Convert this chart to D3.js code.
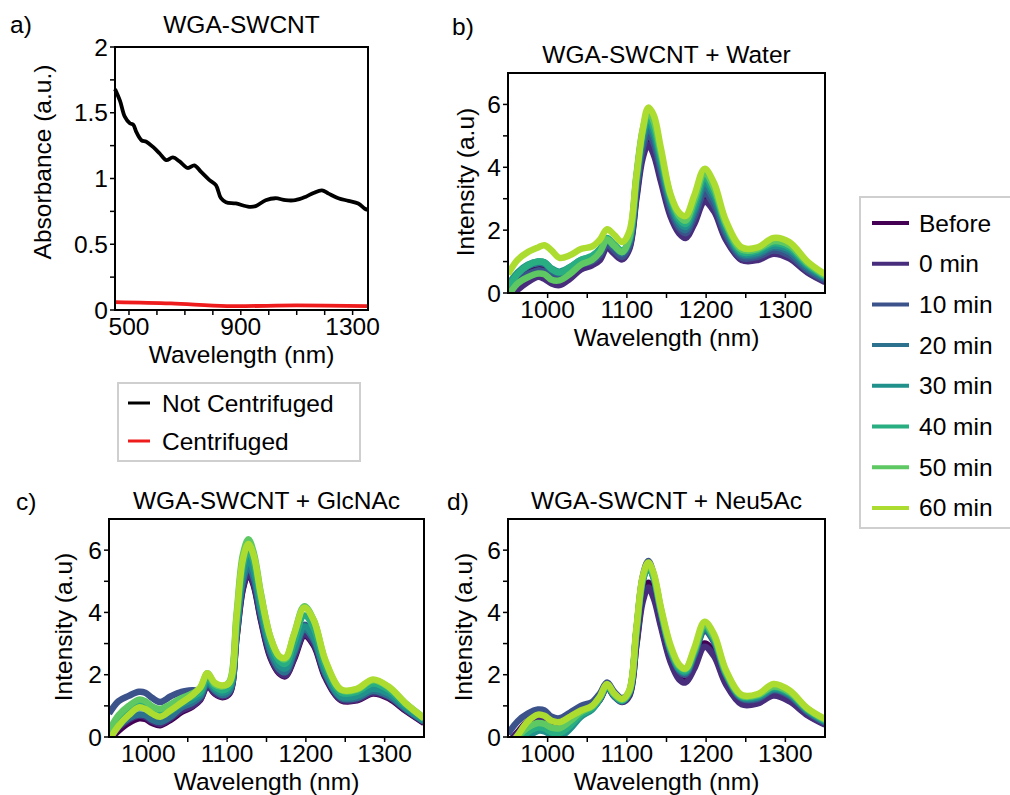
<!DOCTYPE html>
<html>
<head>
<meta charset="utf-8">
<script src="https://cdn.jsdelivr.net/npm/d3@7"></script>
<style>
body { margin: 0; background: #fff; }
text { font-family: "Liberation Sans", Arial, sans-serif; fill: #000; }
</style>
</head>
<body>
<div class="chart"></div>
<script>
var width = 1010, height = 795;

// panel a: absorbance
var absWl = [450, 468, 485, 503, 515, 527, 545, 562, 586, 610, 633, 657, 681, 710, 734, 758, 787, 811, 829, 847, 882, 930, 953, 989, 1024, 1060, 1095, 1131, 1160, 1190, 1214, 1249, 1285, 1320, 1344, 1355];
var notCentrifuged = [1.68, 1.59, 1.47, 1.42, 1.41, 1.35, 1.29, 1.28, 1.24, 1.19, 1.14, 1.16, 1.13, 1.08, 1.10, 1.05, 0.99, 0.95, 0.85, 0.82, 0.81, 0.785, 0.79, 0.835, 0.85, 0.835, 0.835, 0.86, 0.89, 0.91, 0.885, 0.85, 0.83, 0.81, 0.77, 0.76];
var centWl = [450, 650, 850, 1100, 1355];
var centrifuged = [0.06, 0.05, 0.03, 0.035, 0.03];

// panels b-d: NIR fluorescence
var timeLabels = ['Before', '0 min', '10 min', '20 min', '30 min', '40 min', '50 min', '60 min'];
var nirWl = [950, 962, 975, 988, 996, 1005, 1015, 1028, 1042, 1056, 1066, 1075, 1084, 1094, 1103, 1112, 1120, 1127, 1134, 1143, 1155, 1166, 1174, 1185, 1198, 1210, 1225, 1245, 1265, 1285, 1305, 1328, 1350];

var water = [
	[0.1, 0.45, 0.65, 0.8, 0.8, 0.62, 0.5, 0.6, 0.85, 0.95, 1.15, 1.5, 1.3, 1.1, 1.45, 3.1, 4.45, 4.9, 4.6, 3.7, 2.55, 1.98, 1.82, 2.3, 3.0, 2.7, 1.75, 1.08, 1.1, 1.3, 1.15, 0.68, 0.38],
	[-0.15, 0.1, 0.35, 0.52, 0.45, 0.3, 0.25, 0.45, 0.75, 0.88, 1.05, 1.45, 1.25, 1.07, 1.4, 3.0, 4.3, 4.72, 4.4, 3.55, 2.45, 1.9, 1.75, 2.2, 2.9, 2.6, 1.7, 1.05, 1.05, 1.25, 1.1, 0.65, 0.35],
	[0.05, 0.4, 0.6, 0.72, 0.68, 0.5, 0.45, 0.62, 0.9, 1.0, 1.2, 1.55, 1.35, 1.15, 1.5, 3.25, 4.6, 5.05, 4.75, 3.85, 2.65, 2.05, 1.9, 2.4, 3.15, 2.8, 1.85, 1.12, 1.15, 1.35, 1.2, 0.72, 0.4],
	[0.2, 0.6, 0.85, 0.95, 0.92, 0.72, 0.62, 0.78, 1.0, 1.1, 1.3, 1.65, 1.45, 1.25, 1.6, 3.4, 4.8, 5.25, 4.95, 4.0, 2.8, 2.15, 2.0, 2.55, 3.35, 2.95, 1.95, 1.2, 1.22, 1.45, 1.3, 0.78, 0.45],
	[0.25, 0.65, 0.9, 1.0, 0.98, 0.78, 0.68, 0.82, 1.05, 1.15, 1.35, 1.7, 1.5, 1.3, 1.65, 3.55, 4.95, 5.45, 5.1, 4.15, 2.9, 2.25, 2.1, 2.65, 3.5, 3.1, 2.05, 1.25, 1.28, 1.5, 1.38, 0.85, 0.5],
	[0.15, 0.6, 0.88, 1.0, 0.97, 0.76, 0.65, 0.82, 1.05, 1.18, 1.4, 1.75, 1.55, 1.35, 1.7, 3.65, 5.1, 5.6, 5.25, 4.3, 3.0, 2.35, 2.2, 2.8, 3.65, 3.22, 2.15, 1.3, 1.35, 1.58, 1.45, 0.9, 0.52],
	[-0.1, 0.3, 0.5, 0.62, 0.6, 0.42, 0.4, 0.6, 0.9, 1.05, 1.3, 1.7, 1.5, 1.3, 1.75, 3.75, 5.2, 5.75, 5.45, 4.45, 3.1, 2.45, 2.3, 2.95, 3.8, 3.35, 2.2, 1.38, 1.4, 1.65, 1.52, 0.95, 0.56],
	[0.6, 1.05, 1.3, 1.45, 1.52, 1.35, 1.12, 1.2, 1.4, 1.48, 1.7, 2.03, 1.85, 1.62, 1.95, 3.7, 5.2, 5.9, 5.65, 4.6, 3.15, 2.55, 2.45, 3.1, 3.95, 3.5, 2.3, 1.45, 1.45, 1.75, 1.62, 1.0, 0.6]
];

var glcnac = [
	[-0.1, 0.2, 0.45, 0.6, 0.58, 0.45, 0.38, 0.55, 0.8, 0.98, 1.2, 1.65, 1.4, 1.28, 1.4, 3.2, 4.75, 5.25, 4.85, 3.75, 2.55, 2.05, 1.95, 2.5, 3.25, 2.95, 1.9, 1.18, 1.18, 1.4, 1.25, 0.82, 0.45],
	[-0.05, 0.3, 0.55, 0.68, 0.65, 0.5, 0.42, 0.6, 0.85, 1.0, 1.22, 1.68, 1.42, 1.3, 1.42, 3.25, 4.8, 5.3, 4.9, 3.8, 2.6, 2.08, 1.98, 2.55, 3.3, 3.0, 1.95, 1.2, 1.2, 1.42, 1.28, 0.85, 0.48],
	[0.75, 1.15, 1.32, 1.45, 1.42, 1.25, 1.12, 1.3, 1.45, 1.5, 1.5, 1.85, 1.55, 1.4, 1.5, 3.4, 5.1, 5.6, 5.2, 4.05, 2.8, 2.25, 2.15, 2.8, 3.6, 3.25, 2.1, 1.3, 1.3, 1.55, 1.38, 0.9, 0.5],
	[0.0, 0.35, 0.6, 0.72, 0.7, 0.55, 0.48, 0.65, 0.95, 1.1, 1.3, 1.75, 1.5, 1.35, 1.48, 3.35, 5.0, 5.5, 5.1, 3.95, 2.72, 2.18, 2.08, 2.7, 3.45, 3.12, 2.02, 1.25, 1.25, 1.48, 1.32, 0.88, 0.5],
	[0.05, 0.5, 0.8, 0.95, 0.92, 0.75, 0.68, 0.82, 1.05, 1.2, 1.38, 1.82, 1.55, 1.42, 1.55, 3.45, 5.2, 5.7, 5.3, 4.1, 2.85, 2.3, 2.2, 2.8, 3.55, 3.22, 2.1, 1.3, 1.32, 1.55, 1.4, 0.92, 0.52],
	[0.1, 0.55, 0.85, 1.05, 1.0, 0.85, 0.8, 0.95, 1.15, 1.3, 1.45, 1.92, 1.62, 1.5, 1.65, 3.7, 5.5, 6.0, 5.6, 4.35, 3.05, 2.45, 2.35, 3.05, 3.9, 3.5, 2.28, 1.42, 1.45, 1.72, 1.52, 1.0, 0.58],
	[0.2, 0.7, 1.0, 1.2, 1.15, 0.98, 0.9, 1.05, 1.25, 1.4, 1.58, 2.05, 1.7, 1.62, 1.78, 3.95, 5.85, 6.35, 5.9, 4.6, 3.2, 2.58, 2.5, 3.3, 4.2, 3.75, 2.42, 1.5, 1.52, 1.82, 1.6, 1.05, 0.62],
	[-0.1, 0.35, 0.7, 0.95, 0.9, 0.75, 0.65, 0.85, 1.1, 1.35, 1.6, 2.05, 1.75, 1.65, 1.75, 3.85, 5.7, 6.2, 5.8, 4.55, 3.2, 2.6, 2.55, 3.3, 4.15, 3.75, 2.45, 1.52, 1.55, 1.85, 1.62, 1.05, 0.6]
];

var neu5ac = [
	[-0.2, 0.15, 0.5, 0.65, 0.62, 0.45, 0.4, 0.58, 0.8, 0.95, 1.22, 1.62, 1.32, 1.15, 1.35, 3.0, 4.5, 4.95, 4.6, 3.65, 2.5, 1.9, 1.8, 2.3, 3.0, 2.7, 1.75, 1.1, 1.12, 1.38, 1.2, 0.72, 0.42],
	[-0.25, 0.1, 0.45, 0.6, 0.58, 0.42, 0.38, 0.55, 0.78, 0.92, 1.2, 1.6, 1.3, 1.12, 1.32, 2.95, 4.35, 4.8, 4.45, 3.55, 2.42, 1.85, 1.75, 2.2, 2.9, 2.6, 1.7, 1.05, 1.08, 1.33, 1.15, 0.7, 0.4],
	[0.1, 0.5, 0.75, 0.88, 0.85, 0.65, 0.6, 0.78, 1.0, 1.12, 1.4, 1.75, 1.45, 1.25, 1.45, 3.4, 5.15, 5.65, 5.2, 4.05, 2.75, 2.12, 2.0, 2.6, 3.4, 3.05, 1.98, 1.22, 1.22, 1.5, 1.32, 0.8, 0.45],
	[-0.4, -0.2, 0.1, 0.3, 0.28, 0.12, 0.1, 0.35, 0.7, 0.9, 1.25, 1.65, 1.35, 1.18, 1.42, 3.35, 5.0, 5.5, 5.1, 4.0, 2.75, 2.15, 2.05, 2.65, 3.45, 3.1, 2.0, 1.25, 1.25, 1.52, 1.35, 0.82, 0.47],
	[-0.5, -0.3, 0.0, 0.2, 0.18, 0.05, 0.0, 0.25, 0.65, 0.88, 1.22, 1.62, 1.32, 1.15, 1.42, 3.35, 5.0, 5.45, 5.08, 4.0, 2.78, 2.18, 2.08, 2.68, 3.5, 3.12, 2.02, 1.27, 1.28, 1.55, 1.38, 0.85, 0.5],
	[-0.4, -0.15, 0.15, 0.3, 0.28, 0.15, 0.12, 0.35, 0.72, 0.92, 1.25, 1.65, 1.35, 1.18, 1.45, 3.4, 5.05, 5.5, 5.12, 4.05, 2.82, 2.22, 2.12, 2.72, 3.55, 3.18, 2.05, 1.3, 1.32, 1.6, 1.42, 0.88, 0.52],
	[-0.3, 0.0, 0.3, 0.45, 0.42, 0.3, 0.28, 0.5, 0.8, 0.98, 1.3, 1.68, 1.38, 1.2, 1.48, 3.45, 5.1, 5.55, 5.18, 4.1, 2.88, 2.28, 2.18, 2.78, 3.6, 3.22, 2.1, 1.32, 1.35, 1.62, 1.45, 0.9, 0.55],
	[-0.3, 0.05, 0.5, 0.72, 0.68, 0.52, 0.48, 0.65, 0.85, 1.0, 1.3, 1.7, 1.4, 1.22, 1.5, 3.5, 5.15, 5.6, 5.25, 4.15, 2.95, 2.32, 2.2, 2.85, 3.7, 3.3, 2.15, 1.35, 1.38, 1.7, 1.5, 0.92, 0.58]
];

var absXTicks = [500, 600, 700, 800, 900, 1000, 1100, 1200, 1300];
var absXLabels = [500, 900, 1300];
var absYTicks = [0, 0.25, 0.5, 0.75, 1, 1.25, 1.5, 1.75, 2];
var absYLabels = [0, 0.5, 1, 1.5, 2];
var nirXTicks = [1000, 1050, 1100, 1150, 1200, 1250, 1300];
var nirXLabels = [1000, 1100, 1200, 1300];
var nirYTicks = [0, 1, 2, 3, 4, 5, 6];
var nirYLabels = [0, 2, 4, 6];

var svg = d3.select('.chart')
	.append('svg')
	.attr('width', width)
	.attr('height', height);

var color = function(i) { return d3.interpolateViridis(i / 8); };
var fs = 24.5;

// draws ticks, labels and axis titles for one panel
function drawAxes(box, x, y, xt, xl, yt, yl, ylabel, yfmt) {
	var g = svg.append('g');
	g.selectAll('.xt').data(xt).enter().append('line')
		.attr('x1', function(d) { return x(d); }).attr('x2', function(d) { return x(d); })
		.attr('y1', box.b).attr('y2', box.b + 5)
		.attr('stroke', '#000').attr('stroke-width', 1.5);
	g.selectAll('.yt').data(yt).enter().append('line')
		.attr('y1', function(d) { return y(d); }).attr('y2', function(d) { return y(d); })
		.attr('x1', box.l - 5).attr('x2', box.l)
		.attr('stroke', '#000').attr('stroke-width', 1.5);
	g.selectAll('.xl').data(xl).enter().append('text')
		.attr('x', function(d) { return x(d); })
		.attr('y', box.b + 25)
		.attr('text-anchor', 'middle')
		.style('font-size', fs + 'px')
		.text(function(d) { return d; });
	g.selectAll('.yl').data(yl).enter().append('text')
		.attr('x', box.l - 7)
		.attr('y', function(d) { return y(d); })
		.attr('dy', '0.35em')
		.attr('text-anchor', 'end')
		.style('font-size', fs + 'px')
		.text(yfmt);
	g.append('text')
		.attr('x', (box.l + box.r) / 2)
		.attr('y', box.b + 53)
		.attr('text-anchor', 'middle')
		.style('font-size', fs + 'px')
		.text('Wavelength (nm)');
	g.append('text')
		.attr('transform', 'translate(' + ylabel.x + ',' + ylabel.y + ') rotate(-90)')
		.attr('text-anchor', 'middle')
		.style('font-size', fs + 'px')
		.text(ylabel.text);
}

function drawFrame(box) {
	svg.append('rect')
		.attr('x', box.l).attr('y', box.t)
		.attr('width', box.r - box.l).attr('height', box.b - box.t)
		.attr('fill', 'none').attr('stroke', '#000').attr('stroke-width', 2);
}

function addText(x, y, s, anchor) {
	svg.append('text')
		.attr('x', x).attr('y', y)
		.attr('text-anchor', anchor || 'start')
		.style('font-size', fs + 'px')
		.text(s);
}

// ---- panel a ----
var boxA = { l: 115, r: 368, t: 47, b: 310 };
var xA = d3.scaleLinear().domain([450, 1355]).range([boxA.l, boxA.r]);
var yA = d3.scaleLinear().domain([0, 2]).range([boxA.b, boxA.t]);

drawAxes(boxA, xA, yA, absXTicks, absXLabels, absYTicks, absYLabels,
	{ x: 51, y: 162, text: 'Absorbance (a.u.)' }, function(d) { return d; });

var lineA = d3.line()
	.x(function(d) { return xA(d[0]); })
	.y(function(d) { return yA(d[1]); })
	.curve(d3.curveCatmullRom);

svg.append('path')
	.datum(d3.zip(absWl, notCentrifuged))
	.attr('d', lineA)
	.attr('fill', 'none').attr('stroke', '#000').attr('stroke-width', 3.8);
svg.append('path')
	.datum(d3.zip(centWl, centrifuged))
	.attr('d', lineA)
	.attr('fill', 'none').attr('stroke', '#ee1c1c').attr('stroke-width', 3.8);
drawFrame(boxA);

addText(10, 33, 'a)');
addText((boxA.l + boxA.r) / 2, 33, 'WGA-SWCNT', 'middle');

// legend a
svg.append('rect')
	.attr('x', 118).attr('y', 383).attr('width', 242).attr('height', 78)
	.attr('fill', '#fff').attr('stroke', '#cfcfcf').attr('stroke-width', 2);
var legA = [{ name: 'Not Centrifuged', c: '#000' }, { name: 'Centrifuged', c: '#ee1c1c' }];
legA.forEach(function(d, i) {
	var ly = 403 + i * 38;
	svg.append('line').attr('x1', 128).attr('x2', 150).attr('y1', ly).attr('y2', ly)
		.attr('stroke', d.c).attr('stroke-width', 3);
	svg.append('text').attr('x', 162).attr('y', ly).attr('dy', '0.35em')
		.style('font-size', fs + 'px').text(d.name);
});

// ---- panels b, c, d ----
var panels = [
	{ key: 'b)', lx: 452, ly: 35, title: 'WGA-SWCNT + Water', data: water, box: { l: 508, r: 825, t: 73, b: 293 }, ylab: { x: 474, y: 182 } },
	{ key: 'c)', lx: 16, ly: 510, title: 'WGA-SWCNT + GlcNAc', data: glcnac, box: { l: 109, r: 424, t: 519, b: 737 }, ylab: { x: 72, y: 627 } },
	{ key: 'd)', lx: 447, ly: 510, title: 'WGA-SWCNT + Neu5Ac', data: neu5ac, box: { l: 508, r: 825, t: 519, b: 737 }, ylab: { x: 472, y: 627 } }
];

panels.forEach(function(p, pi) {
	var box = p.box;
	var x = d3.scaleLinear().domain([950, 1350]).range([box.l, box.r]);
	var y = d3.scaleLinear().domain([0, 7]).range([box.b, box.t]);

	drawAxes(box, x, y, nirXTicks, nirXLabels, nirYTicks, nirYLabels,
		{ x: p.ylab.x, y: p.ylab.y, text: 'Intensity (a.u)' }, function(d) { return d; });

	svg.append('clipPath').attr('id', 'clip' + pi)
		.append('rect')
		.attr('x', box.l).attr('y', box.t)
		.attr('width', box.r - box.l).attr('height', box.b - box.t);

	var line = d3.line()
		.x(function(d) { return x(d[0]); })
		.y(function(d) { return y(d[1]); })
		.curve(d3.curveCatmullRom);

	svg.append('g')
		.attr('clip-path', 'url(#clip' + pi + ')')
		.selectAll('.spec')
		.data(p.data)
		.enter().append('path')
		.attr('class', 'spec')
		.attr('d', function(d) { return line(d3.zip(nirWl, d)); })
		.attr('fill', 'none')
		.attr('stroke', function(d, i) { return color(i); })
		.attr('stroke-width', 6.5)
		.attr('stroke-linejoin', 'round');

	drawFrame(box);
	addText(p.lx, p.ly, p.key);
	addText((box.l + box.r) / 2, box.t - 10, p.title, 'middle');
});

// shared legend
svg.append('rect')
	.attr('x', 860).attr('y', 197).attr('width', 160).attr('height', 331)
	.attr('fill', '#fff').attr('stroke', '#cfcfcf').attr('stroke-width', 2);
timeLabels.forEach(function(t, i) {
	var ly = 223 + i * 40.7;
	svg.append('line').attr('x1', 872).attr('x2', 909).attr('y1', ly).attr('y2', ly)
		.attr('stroke', color(i)).attr('stroke-width', 4);
	svg.append('text').attr('x', 919).attr('y', ly).attr('dy', '0.35em')
		.style('font-size', fs + 'px').text(t);
});
</script>
</body>
</html>
